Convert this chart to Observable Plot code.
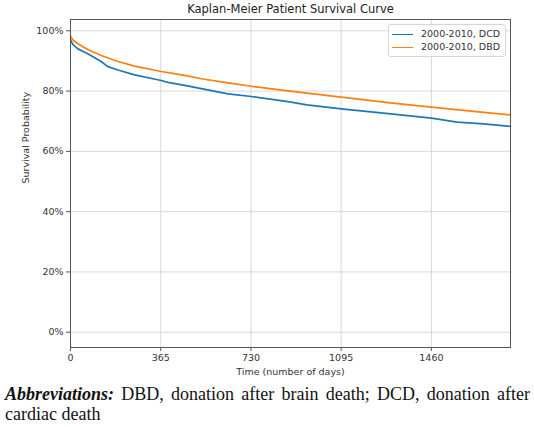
<!DOCTYPE html>
<html>
<head>
<meta charset="utf-8">
<script src="https://cdn.jsdelivr.net/npm/d3@7"></script>
<script src="https://cdn.jsdelivr.net/npm/@observablehq/plot@0.6"></script>
<style>
  html, body { margin: 0; padding: 0; background: #fff; }
  #wrap { position: relative; width: 534px; height: 427px; overflow: hidden; }
  #legend { position: absolute; left: 388px; top: 24px; width: 116px; height: 31px;
    border: 1px solid #d6d6d6; border-radius: 3px; background: rgba(255,255,255,0.85);
    font-family: "DejaVu Sans", sans-serif; font-size: 9.5px; color: #333; }
  .row { position: absolute; left: 3px; height: 12px; line-height: 12px; white-space: nowrap; }
  .sw { display: inline-block; width: 21px; height: 1.8px; vertical-align: middle; margin-right: 8px; }
  #caption { position: absolute; left: 5px; top: 384px; width: 525px;
    font-family: "Liberation Serif", serif; font-size: 18px; line-height: 20px; color: #111; }
  #caption .l1 { text-align: justify; text-align-last: justify; }
</style>
</head>
<body>
<div id="wrap">
  <div id="chart"></div>
  <div id="legend"></div>
  <div id="caption"></div>
</div>
<script>
const title = "Kaplan-Meier Patient Survival Curve";
const xLabel = "Time (number of days)";
const yLabel = "Survival Probability";
const seriesNames = ["2000-2010, DCD", "2000-2010, DBD"];
const seriesColors = ["#1f77b4", "#ff7f0e"];
const xTicks = [0, 365, 730, 1095, 1460];
const yTicks = [0, 0.2, 0.4, 0.6, 0.8, 1.0];

const dcdDays = [0, 9, 30, 70, 124, 151, 192, 259, 367, 394, 462, 529, 637, 732, 880, 956, 1095, 1226, 1334, 1460, 1564, 1672, 1780];
const dcdSurv = [97.0, 95.5, 94.0, 92.4, 89.8, 88.1, 87.0, 85.4, 83.5, 82.9, 81.9, 80.8, 79.1, 78.2, 76.5, 75.4, 74.1, 73.0, 72.1, 71.0, 69.7, 69.1, 68.3];
const dbdDays = [0, 8, 30, 70, 124, 192, 259, 367, 462, 529, 637, 732, 880, 1095, 1294, 1460, 1631, 1780];
const dbdSurv = [98.3, 97.1, 95.7, 93.8, 91.8, 89.8, 88.3, 86.5, 85.2, 84.1, 82.7, 81.6, 80.1, 78.0, 76.1, 74.7, 73.3, 72.1];

const captionBold = "Abbreviations:";
const captionLine1 = " DBD, donation after brain death; DCD, donation after";
const captionLine2 = "cardiac death";

const data = [
  ...dcdDays.map((d, i) => ({day: d, surv: dcdSurv[i] / 100, series: seriesNames[0]})),
  ...dbdDays.map((d, i) => ({day: d, surv: dbdSurv[i] / 100, series: seriesNames[1]}))
];

const font = "DejaVu Sans, sans-serif";
const chart = Plot.plot({
  width: 534,
  height: 380,
  marginLeft: 70,
  marginRight: 24,
  marginTop: 19,
  marginBottom: 33,
  style: {fontFamily: font, fontSize: "9.5px", color: "#333", background: "white"},
  x: {domain: [0, 1780]},
  y: {domain: [-0.0507, 1.0375]},
  color: {domain: seriesNames, range: seriesColors},
  marks: [
    Plot.gridX(xTicks, {stroke: "#d4d4d4", strokeOpacity: 1, strokeWidth: 0.9}),
    Plot.gridY(yTicks, {stroke: "#d4d4d4", strokeOpacity: 1, strokeWidth: 0.9}),
    Plot.axisX(xTicks, {tickSize: 4, tickPadding: 3, label: null, stroke: "#555", fill: "#333", fontSize: 9.5,
      tickFormat: d => String(d)}),
    Plot.axisY(yTicks, {tickSize: 4, tickPadding: 3, label: null, stroke: "#555", fill: "#333", fontSize: 9.5,
      tickFormat: d => Math.round(d * 100) + "%"}),
    Plot.line(data, {x: "day", y: "surv", z: "series", stroke: "series", strokeWidth: 1.7}),
    Plot.frame({stroke: "#555", strokeWidth: 1}),
    Plot.text([title], {frameAnchor: "top", lineAnchor: "middle", dy: -10, fontSize: 11.5, fill: "#222"}),
    Plot.text([xLabel], {frameAnchor: "bottom", lineAnchor: "middle", dy: 24, fontSize: 9.5, fill: "#333"}),
    Plot.text([yLabel], {frameAnchor: "left", dx: -45, rotate: -90, fontSize: 9.5, fill: "#333"})
  ]
});
document.getElementById("chart").appendChild(chart);

const legend = document.getElementById("legend");
seriesNames.forEach((name, i) => {
  const row = document.createElement("div");
  row.className = "row";
  row.style.top = (3 + i * 13) + "px";
  const sw = document.createElement("span");
  sw.className = "sw";
  sw.style.background = seriesColors[i];
  row.appendChild(sw);
  row.appendChild(document.createTextNode(name));
  legend.appendChild(row);
});

const cap = document.getElementById("caption");
const l1 = document.createElement("div");
l1.className = "l1";
const b = document.createElement("b");
const it = document.createElement("i");
it.textContent = captionBold;
b.appendChild(it);
l1.appendChild(b);
l1.appendChild(document.createTextNode(captionLine1));
const l2 = document.createElement("div");
l2.textContent = captionLine2;
cap.appendChild(l1);
cap.appendChild(l2);
</script>
</body>
</html>
